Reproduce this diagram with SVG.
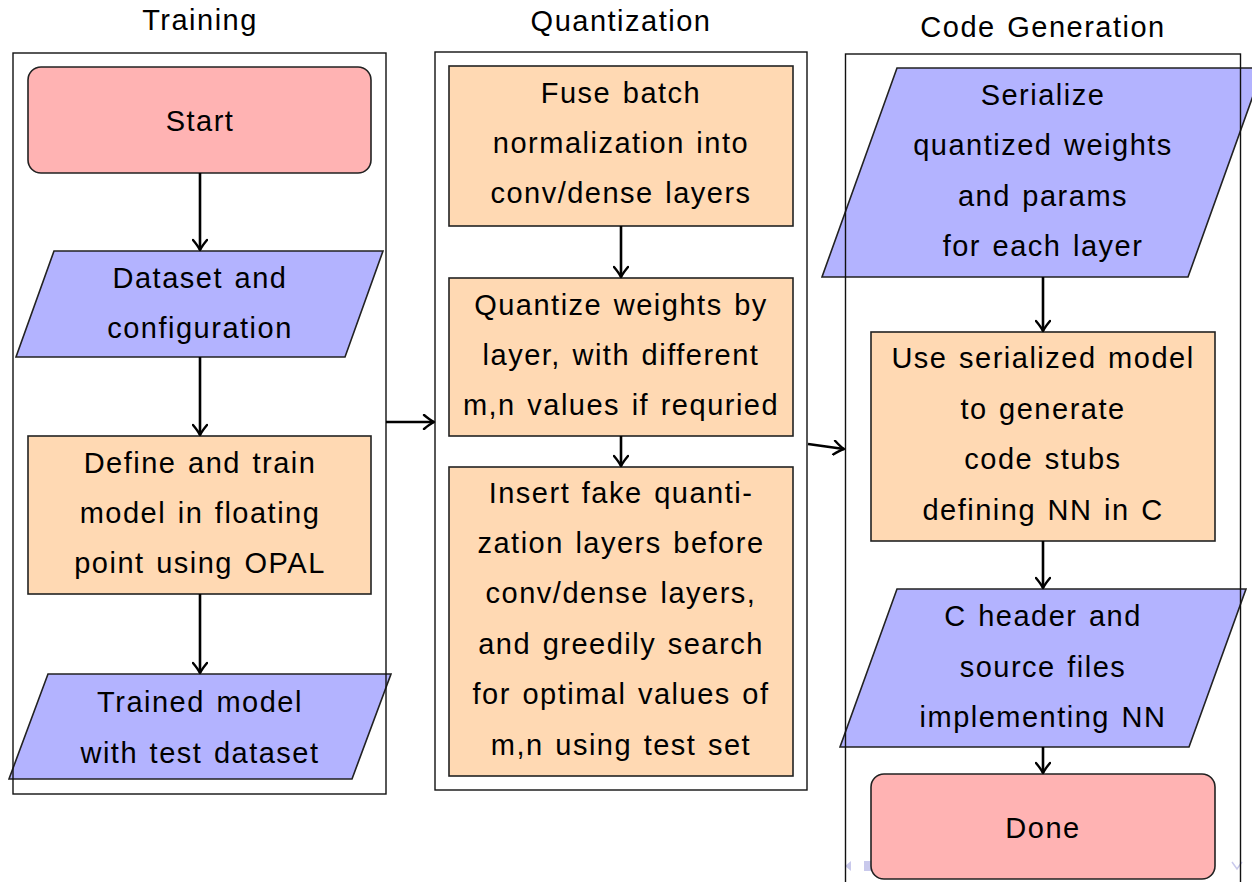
<svg xmlns="http://www.w3.org/2000/svg" width="1252" height="882" viewBox="0 0 1252 882">
<defs>
<style>
text{font-family:"Liberation Sans",Arial,sans-serif;font-size:29px;fill:#000;text-anchor:middle;letter-spacing:1.5px;word-spacing:2px;}
.start{fill:#ffb3b3;stroke:#222;stroke-width:1.6;}
.io{fill:#b3b3ff;stroke:#222;stroke-width:1.6;}
.proc{fill:#ffd9b3;stroke:#222;stroke-width:1.6;}
.frame{fill:none;stroke:#111;stroke-width:1.4;}
.conn{fill:none;stroke:#000;stroke-width:2.6;marker-end:url(#arr);}
.nav{fill:#c9c9ec;stroke:none;}
</style>
<marker id="arr" markerUnits="userSpaceOnUse" viewBox="-12 -8 14 16" refX="0" refY="0" markerWidth="14" markerHeight="16" orient="auto">
<path d="M-10,-7 Q-4,-2 0,0 Q-4,2 -10,7" fill="none" stroke="#000" stroke-width="2.4" stroke-linecap="round" stroke-linejoin="round"/>
</marker>
</defs>
<rect width="1252" height="882" fill="#fff"/>

<!-- faint navigation marks -->
<g id="nav">
<path class="nav" d="M845,866 L851,861 L851,871 Z"/>
<rect class="nav" x="864" y="861" width="8" height="10"/>
<path d="M1232,862 L1237,869 L1242,862" fill="none" stroke="#c9c9ec" stroke-width="1.5"/>
</g>

<!-- Titles -->
<g id="titles">
<text x="200" y="30">Training</text>
<text x="621" y="31">Quantization</text>
<text x="1043" y="37">Code Generation</text>
</g>

<!-- Training column -->
<g id="start">
<rect class="start" x="28" y="67" width="343" height="106" rx="13" ry="13"/>
<text x="200" y="131">Start</text>
</g>
<g id="dataset">
<polygon class="io" points="54,251 383,251 345,357 16,357"/>
<text x="200" y="288">Dataset and</text>
<text x="200" y="338">configuration</text>
</g>
<g id="define">
<rect class="proc" x="28" y="436" width="343" height="158"/>
<text x="200" y="473">Define and train</text>
<text x="200" y="523">model in floating</text>
<text x="200" y="573">point using OPAL</text>
</g>
<g id="trained">
<polygon class="io" points="48,674 391,674 352,779 9,779"/>
<text x="200" y="712">Trained model</text>
<text x="200" y="763">with test dataset</text>
</g>

<!-- Quantization column -->
<g id="fuse">
<rect class="proc" x="449" y="66" width="344" height="160"/>
<text x="621" y="103">Fuse batch</text>
<text x="621" y="153">normalization into</text>
<text x="621" y="203">conv/dense layers</text>
</g>
<g id="quantize">
<rect class="proc" x="449" y="278" width="344" height="158"/>
<text x="621" y="315">Quantize weights by</text>
<text x="621" y="365">layer, with different</text>
<text x="621" y="415">m,n values if requried</text>
</g>
<g id="insert">
<rect class="proc" x="449" y="467" width="344" height="309"/>
<text x="621" y="503">Insert fake quanti-</text>
<text x="621" y="553">zation layers before</text>
<text x="621" y="603">conv/dense layers,</text>
<text x="621" y="654">and greedily search</text>
<text x="621" y="704">for optimal values of</text>
<text x="621" y="755">m,n using test set</text>
</g>

<!-- Code Generation column -->
<g id="serialize">
<polygon class="io" points="897,68 1263,68 1188,277 822,277"/>
<text x="1043" y="105">Serialize</text>
<text x="1043" y="155">quantized weights</text>
<text x="1043" y="206">and params</text>
<text x="1043" y="256">for each layer</text>
</g>
<g id="usemodel">
<rect class="proc" x="871" y="332" width="344" height="209"/>
<text x="1043" y="368">Use serialized model</text>
<text x="1043" y="419">to generate</text>
<text x="1043" y="469">code stubs</text>
<text x="1043" y="520">defining NN in C</text>
</g>
<g id="cheader">
<polygon class="io" points="897,589 1246,589 1189,747 840,747"/>
<text x="1043" y="626">C header and</text>
<text x="1043" y="677">source files</text>
<text x="1043" y="727">implementing NN</text>
</g>
<g id="done">
<rect class="start" x="871" y="774" width="344" height="105" rx="13" ry="13"/>
<text x="1043" y="838">Done</text>
</g>

<!-- Group frames -->
<g id="frames">
<rect id="frame-training" class="frame" x="13" y="53" width="373" height="741"/>
<rect id="frame-quantization" class="frame" x="435" y="52" width="372" height="738"/>
<rect id="frame-codegen" class="frame" x="845.5" y="54" width="395" height="860"/>
</g>

<!-- Connectors -->
<g id="connectors">
<line class="conn" x1="200" y1="173" x2="200" y2="250"/>
<line class="conn" x1="200" y1="357" x2="200" y2="435"/>
<line class="conn" x1="200" y1="594" x2="200" y2="673"/>
<line class="conn" x1="621" y1="226" x2="621" y2="277"/>
<line class="conn" x1="621" y1="436" x2="621" y2="466"/>
<line class="conn" x1="1043" y1="277" x2="1043" y2="331"/>
<line class="conn" x1="1043" y1="541" x2="1043" y2="588"/>
<line class="conn" x1="1043" y1="747" x2="1043" y2="773"/>
<line class="conn" x1="386" y1="422" x2="434" y2="422"/>
<line class="conn" x1="808" y1="444" x2="844" y2="449"/>
</g>
</svg>
